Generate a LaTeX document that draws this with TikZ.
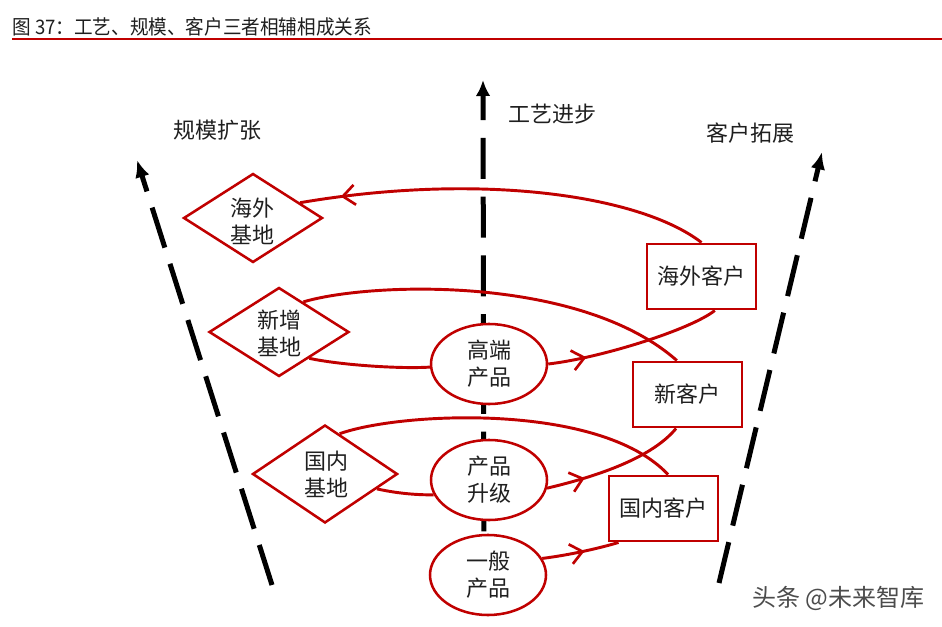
\documentclass[tikz,border=0pt]{standalone}
\usepackage{fontspec}
\setmainfont{Noto Sans CJK SC}
\newfontfamily\titlefont[FakeStretch=0.93]{Noto Sans CJK SC}
\usetikzlibrary{shapes.geometric,arrows.meta,decorations.markings}
\definecolor{dred}{RGB}{192,0,0}
\pgfdeclarelayer{bg}
\pgfsetlayers{bg,main}
\begin{document}
\begin{tikzpicture}[x=0.75pt,y=-0.75pt,
  every node/.style={font=\fontsize{16.5pt}{20.25pt}\selectfont, align=center, text=black!88},
  diam/.style={shape=diamond, draw=dred, line width=1.9pt, fill=white, inner sep=0pt},
  ell/.style={ellipse, draw=dred, line width=1.9pt, fill=white, minimum width=87pt, minimum height=60pt, inner sep=0pt},
  box/.style={rectangle, draw=dred, line width=2.2pt, fill=white, minimum width=81.75pt, minimum height=48.75pt, inner sep=0pt},
  axis/.style={line width=3.75pt, dash pattern=on 31.5pt off 12.75pt, -{Latex[length=13pt,width=11pt]}},
  midaxis/.style={line width=3.75pt, dash pattern=on 30.75pt off 13.3pt, -{Latex[length=12pt,width=11pt]}},
  link/.style={draw=dred, line width=2.2pt},
  flow/.style={link, postaction={decorate}, decoration={markings, mark=at position #1 with {\arrow{Straight Barb[length=9pt,width=15pt,line width=2pt]}}}}
]
\useasboundingbox (0,0) rectangle (942,627);

% title
\node[anchor=west, inner sep=0pt, font=\titlefont\fontsize{15pt}{18pt}\selectfont] (title) at (12,27) {图 37：工艺、规模、客户三者相辅相成关系};
\coordinate (rl) at (12,39);
\coordinate (rr) at (942,39);
\draw[dred, line width=2.2pt] (rl) -- (rr);

% axis labels
\node (gmkz) at (217,130) {规模扩张};
\node (gyjb) at (552,114) {工艺进步};
\node (khtz) at (750,133) {客户拓展};

% diamonds
\node[diam, minimum width=104.25pt, minimum height=66.75pt] (hwjd) at (253,218) {};
\node (hwjdt) at (252,221) {海外\\基地};
\node[diam, minimum width=105pt, minimum height=66.75pt] (xzjd) at (279,332) {};
\node (xzjdt) at (279,333) {新增\\基地};
\node[diam, minimum width=108.75pt, minimum height=73.5pt] (gnjd) at (325,474) {};
\node (gnjdt) at (326,474) {国内\\基地};

% ellipses
\node[ell] (gdcp) at (489,364) {高端\\产品};
\node[ell] (cpsj) at (489,480) {产品\\升级};
\node[ell] (ybcp) at (488,575) {一般\\产品};

% boxes
\node[box] (hwkh) at (701.5,276.5) {海外客户};
\node[box] (xkh) at (687.5,394.5) {新客户};
\node[box] (gnkh) at (663.5,508.5) {国内客户};

% watermark
\node[anchor=west, inner sep=0pt, text=black!70, font=\fontsize{18pt}{20pt}\selectfont] (wm) at (752,598) {头条 @未来智库};

\begin{pgfonlayer}{bg}
\coordinate (lb) at (272,585);
\coordinate (lt) at (137,160);
\coordinate (mb) at (484,590);
\coordinate (mt) at (483,80);
\coordinate (rb) at (719,583);
\coordinate (rt) at (822,152);
\draw[axis] (lb) -- (lt);
\draw[midaxis] (mb) -- (mt);
\draw[axis] (rb) -- (rt);

\draw[flow=0.9] (hwkh.north) .. controls (640,195) and (480,172) .. (hwjd.18);
\draw[link] (xzjd.51) .. controls (370,282) and (580,275) .. ([xshift=-8pt]xkh.north);
\draw[link] (xzjd.-41) .. controls (340,365) and (400,369) .. (gdcp.183);
\draw[flow=0.22] (gdcp.east) .. controls (600,358) and (690,330) .. ([xshift=10pt]hwkh.south);
\draw[link] (gnjd.70) .. controls (400,412) and (600,402) .. ([xshift=3.4pt]gnkh.north);
\draw[link] (gnjd.-16) .. controls (400,494) and (420,495) .. (cpsj.195);
\draw[flow=0.27] (cpsj.-8) .. controls (590,478) and (650,460) .. ([xshift=-8.6pt]xkh.south);
\draw[flow=0.55] (ybcp.17) .. controls (570,555) and (600,548) .. ([xshift=8.25pt]gnkh.south west);
\end{pgfonlayer}
\end{tikzpicture}
\end{document}
